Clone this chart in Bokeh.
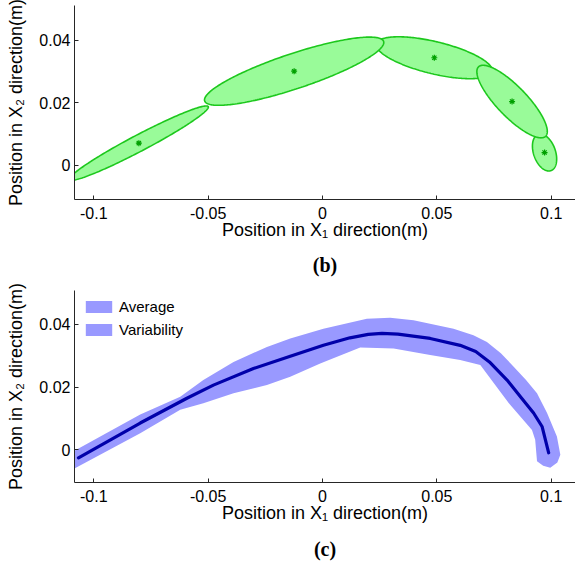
import numpy as np
from bokeh.plotting import figure
from bokeh.models import Range1d, FixedTicker, Legend, LegendItem, Title
from bokeh.layouts import column
from bokeh.embed import file_html
from bokeh.resources import INLINE

# ---------------- data: panel (b) variability ellipses ----------------
ell_cx = [-0.0803, -0.0124, 0.0489, 0.0829, 0.0971]
ell_cy = [0.0071, 0.0301, 0.0344, 0.0204, 0.0041]
ell_sx = [0.0304, 0.0392, 0.0254, 0.0154, 0.0053]
ell_sy = [0.0119, 0.0109, 0.0067, 0.0116, 0.0059]
ell_rho = [0.969, 0.841, -0.616, -0.822, -0.35]

# ---------------- data: panel (c) average trajectory and band ----------------
avg_x = [-0.1067, -0.0797, -0.0593, -0.0477, -0.0302, -0.0141, 0.0004, 0.0120,
         0.0200, 0.0260, 0.0330, 0.0471, 0.0602, 0.0670, 0.0730, 0.0807,
         0.0870, 0.0923, 0.0960, 0.0989]
avg_y = [-0.0026, 0.0085, 0.0164, 0.0206, 0.0259, 0.0298, 0.0333, 0.0357,
         0.0368, 0.0371, 0.0369, 0.0355, 0.0333, 0.0313, 0.0280, 0.0222,
         0.0165, 0.0117, 0.0074, -0.0010]

upper_x = [-0.1100, -0.0797, -0.0622, -0.0521, -0.0389, -0.0243, -0.0141, 0.0004,
           0.0194, 0.0296, 0.0398, 0.0573, 0.0660, 0.0719, 0.0780, 0.0836,
           0.0890, 0.0938, 0.0982, 0.1025, 0.1040, 0.1027, 0.0996, 0.0965]
upper_y = [-0.0010, 0.0112, 0.0169, 0.0222, 0.0280, 0.0328, 0.0355, 0.0386,
           0.0418, 0.0421, 0.0413, 0.0386, 0.0365, 0.0344, 0.0308, 0.0265,
           0.0222, 0.0180, 0.0117, 0.0042, -0.0016, -0.0041, -0.0058, -0.0051]
lower_x = [0.0938, 0.0930, 0.0916, 0.0865, 0.0815, 0.0690, 0.0602, 0.0471,
           0.0311, 0.0165, -0.0010, -0.0141, -0.0243, -0.0389, -0.0521, -0.0622,
           -0.0797, -0.1100]
lower_y = [-0.0037, 0.0032, 0.0063, 0.0106, 0.0148, 0.0270, 0.0286, 0.0302,
           0.0323, 0.0326, 0.0275, 0.0233, 0.0206, 0.0180, 0.0148, 0.0127,
           0.0052, -0.0066]

# ---------------- tick labels and texts ----------------
x_ticks = [-0.1, -0.05, 0.0, 0.05, 0.1]
x_tick_labels = ["-0.1", "-0.05", "0", "0.05", "0.1"]
y_ticks = [0.0, 0.02, 0.04]
y_tick_labels = ["0", "0.02", "0.04"]
legend_labels = ["Average", "Variability"]
x_title = "Position in X\u2081 direction(m)"
y_title = "Position in X\u2082 direction(m)"
captions = ["(b)", "(c)"]

SANS = "Liberation Sans"
SERIF = "Liberation Serif"
AX = "#262626"


def make_panel(h, border_top, border_bottom, y0, y1, caption, cap_standoff):
    p = figure(width=575, height=h, x_range=Range1d(-0.10844, 0.11063),
               y_range=Range1d(y0, y1), output_backend="svg", toolbar_location=None,
               min_border_left=74, min_border_right=0, min_border_top=border_top,
               min_border_bottom=border_bottom)
    p.outline_line_color = None
    p.grid.visible = False
    p.background_fill_color = "white"
    for ax, ticks, labels in ((p.xaxis[0], x_ticks, x_tick_labels),
                              (p.yaxis[0], y_ticks, y_tick_labels)):
        ax.ticker = FixedTicker(ticks=ticks)
        ax.major_label_overrides = {t: l for t, l in zip(ticks, labels)}
        ax.major_tick_in = 4
        ax.major_tick_out = 0
        ax.minor_tick_in = 0
        ax.minor_tick_out = 0
        ax.axis_line_color = AX
        ax.major_tick_line_color = AX
        ax.major_label_text_font = SANS
        ax.major_label_text_font_size = "16px"
        ax.major_label_text_color = "black"
        ax.axis_label_text_font = SANS
        ax.axis_label_text_font_size = "18px"
        ax.axis_label_text_font_style = "normal"
        ax.axis_label_text_color = "black"
    p.xaxis.major_label_standoff = 7
    p.yaxis.major_label_standoff = 4
    p.xaxis.axis_label = x_title
    p.yaxis.axis_label = y_title
    p.xaxis.axis_label_standoff = -2
    p.yaxis.axis_label_standoff = 10
    p.add_layout(Title(text=caption, align="center", text_font=SERIF, text_font_style="bold",
                       text_font_size="20px", text_color="black", standoff=cap_standoff), "below")
    return p


# ---------------- panel (b) ----------------
p1 = make_panel(284, 5, 84, -0.01091, 0.0511, captions[0], 18)
t = np.linspace(0, 2 * np.pi, 240)
draw_order = [2, 4, 3, 1, 0]
for i in draw_order:
    ex = ell_cx[i] + ell_sx[i] * np.cos(t)
    ey = ell_cy[i] + ell_sy[i] * (ell_rho[i] * np.cos(t) + np.sqrt(1 - ell_rho[i] ** 2) * np.sin(t))
    p1.patch(ex, ey, fill_color="#99fb99", line_color="#1dc81d", line_width=1.6)
p1.scatter(ell_cx, ell_cy, marker="asterisk", size=6, line_color="#00a000", line_width=1.2)

# ---------------- panel (c) ----------------
p2 = make_panel(285, 6, 86, -0.01048, 0.0508, captions[1], 20)
band_x = upper_x + lower_x
band_y = upper_y + lower_y
band = p2.patch(band_x, band_y, fill_color="#9999ff", line_color=None)
p2.line(avg_x, avg_y, line_color="#0000aa", line_width=3.2, line_join="round", line_cap="round")
legend = Legend(items=[LegendItem(label=legend_labels[0], renderers=[band]),
                       LegendItem(label=legend_labels[1], renderers=[band])],
                location="top_left", margin=8, padding=0, spacing=6,
                glyph_width=33, glyph_height=15, label_height=15, label_standoff=4,
                label_text_font=SANS, label_text_font_size="15px", label_text_color="black",
                border_line_color=None, background_fill_alpha=0)
p2.add_layout(legend)

layout = column(p1, p2, spacing=0)
open("out.html", "w").write(file_html(layout, INLINE))
